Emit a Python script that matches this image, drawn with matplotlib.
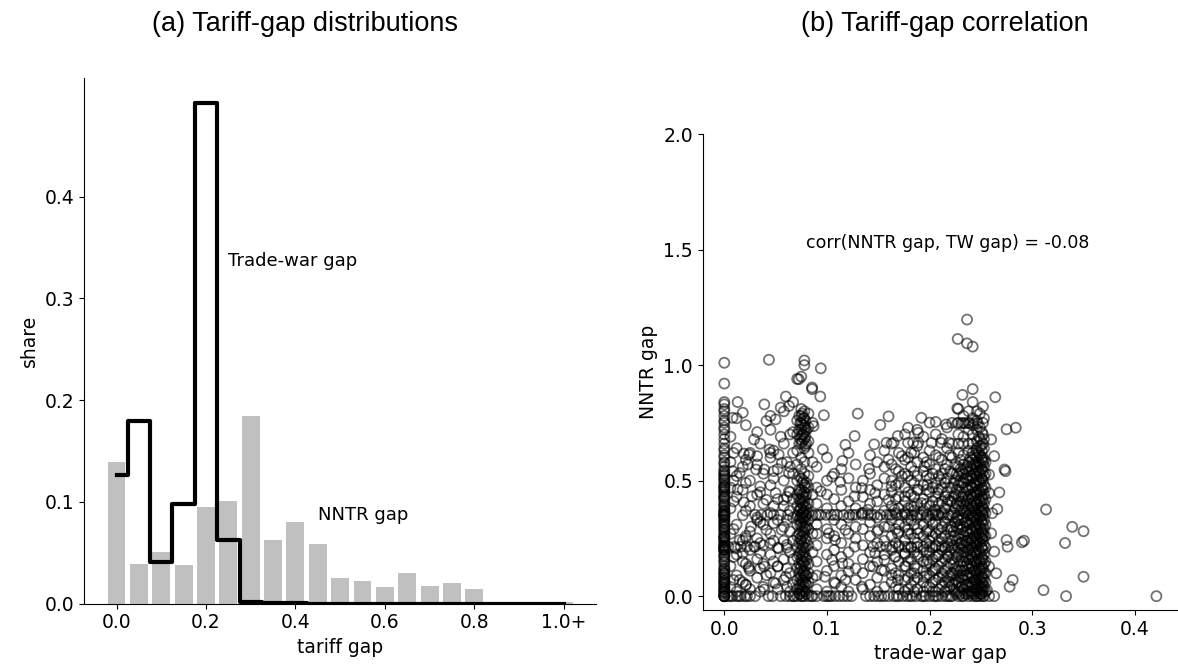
"""
Tariff-gap figure: (a) histograms of NNTR and trade-war gaps, (b) scatter of the two gaps
"""
import matplotlib
matplotlib.use("Agg")
import matplotlib.pyplot as plt

# ---- panel (a): binned shares (bin centres 0.00 ... 1.00, last bin = 1.0+) ----
bin_centers = [0.00, 0.05, 0.10, 0.15, 0.20, 0.25, 0.30, 0.35, 0.40, 0.45, 0.50,
               0.55, 0.60, 0.65, 0.70, 0.75, 0.80, 0.85, 0.90, 0.95, 1.00]
nntr_share = [0.139, 0.039, 0.051, 0.038, 0.095, 0.101, 0.184, 0.063, 0.080, 0.059, 0.025,
              0.022, 0.016, 0.030, 0.017, 0.020, 0.014, 0.002, 0.0015, 0.001, 0.002]
tw_share = [0.126, 0.179, 0.041, 0.098, 0.492, 0.063, 0.002, 0.001, 0.001, 0.0, 0.0,
            0.0, 0.0, 0.0, 0.0, 0.0, 0.0, 0.0, 0.0, 0.0, 0.0]
xtick_vals = [0.0, 0.2, 0.4, 0.6, 0.8, 1.0]
xtick_labels = ["0.0", "0.2", "0.4", "0.6", "0.8", "1.0+"]

# ---- panel (b): products ----
# products with trade-war gap = 0
col0_y = [0.0, 0.0, 0.0, 0.0, 0.01, 0.02, 0.02, 0.03, 0.04, 0.05, 0.05, 0.06, 0.07, 0.08,
          0.08, 0.09, 0.10, 0.11, 0.12, 0.13, 0.15, 0.16, 0.17, 0.18, 0.19, 0.20, 0.20, 0.21,
          0.21, 0.22, 0.23, 0.24, 0.25, 0.25, 0.26, 0.27, 0.28, 0.29, 0.30, 0.30, 0.31, 0.32,
          0.33, 0.34, 0.35, 0.35, 0.36, 0.37, 0.38, 0.39, 0.40, 0.41, 0.42, 0.43, 0.44, 0.45,
          0.46, 0.47, 0.48, 0.49, 0.50, 0.51, 0.53, 0.54, 0.56, 0.58, 0.60, 0.61, 0.63, 0.64,
          0.66, 0.68, 0.70, 0.72, 0.73, 0.75, 0.76, 0.78, 0.80, 0.81, 0.83, 0.84, 0.92, 1.01,
          0.015, 0.035, 0.065, 0.095, 0.115, 0.145, 0.175, 0.205, 0.215, 0.235, 0.255, 0.285,
          0.315, 0.345, 0.355, 0.365, 0.395, 0.425, 0.455, 0.475, 0.505, 0.525, 0.545, 0.575,
          0.0, 0.03, 0.06, 0.1, 0.2, 0.22, 0.26, 0.33, 0.35, 0.37, 0.43, 0.47, 0.52]

# sub-columns of products near trade-war gap = 0.077
col1_x = [0.071, 0.075, 0.078, 0.082, 0.073, 0.076, 0.079, 0.067, 0.086, 0.074, 0.077, 0.080]
col1_y = [
    [0.0, 0.03, 0.07, 0.12, 0.17, 0.21, 0.26, 0.31, 0.35, 0.39, 0.44, 0.50, 0.57, 0.63,
     0.70, 0.76, 0.94],
    [0.0, 0.02, 0.05, 0.09, 0.13, 0.16, 0.20, 0.24, 0.28, 0.32, 0.35, 0.38, 0.42, 0.46,
     0.51, 0.55, 0.60, 0.66, 0.69, 0.72, 0.75, 0.78, 0.81, 0.95],
    [0.0, 0.04, 0.08, 0.11, 0.15, 0.19, 0.23, 0.27, 0.30, 0.34, 0.37, 0.41, 0.45, 0.48,
     0.53, 0.58, 0.64, 0.68, 0.71, 0.74, 0.77, 0.80, 1.02, 1.00],
    [0.0, 0.06, 0.10, 0.14, 0.22, 0.29, 0.33, 0.36, 0.40, 0.47, 0.52, 0.62, 0.67, 0.73, 0.79],
    [0.01, 0.05, 0.10, 0.14, 0.18, 0.23, 0.27, 0.33, 0.37, 0.42, 0.46, 0.52, 0.66, 0.72, 0.78],
    [0.0, 0.03, 0.07, 0.11, 0.15, 0.18, 0.22, 0.26, 0.30, 0.34, 0.36, 0.40, 0.44, 0.49, 0.67,
     0.70, 0.74, 0.79],
    [0.02, 0.06, 0.09, 0.13, 0.17, 0.21, 0.25, 0.29, 0.32, 0.35, 0.39, 0.43, 0.47, 0.65, 0.69,
     0.73, 0.76],
    [0.0, 0.05, 0.16, 0.24, 0.34, 0.42, 0.53, 0.62, 0.71, 0.84],
    [0.0, 0.08, 0.19, 0.27, 0.35, 0.44, 0.58, 0.75],
    [0.01, 0.04, 0.08, 0.12, 0.19, 0.25, 0.31, 0.34, 0.38, 0.41, 0.45, 0.68, 0.75],
    [0.02, 0.06, 0.10, 0.14, 0.17, 0.21, 0.28, 0.33, 0.36, 0.39, 0.43, 0.50, 0.70, 0.77],
    [0.01, 0.05, 0.09, 0.16, 0.24, 0.30, 0.35, 0.38, 0.44, 0.49, 0.66, 0.72],
]

# sub-columns of the dense band near trade-war gap = 0.24
band_x = [0.222, 0.228, 0.233, 0.238, 0.242, 0.246, 0.249, 0.252,
          0.225, 0.230, 0.235, 0.240, 0.244, 0.248, 0.251, 0.253,
          0.2235, 0.2265, 0.2315, 0.2365, 0.2415, 0.2455, 0.2505, 0.2545]
band_y = [
    [0.0, 0.05, 0.10, 0.16, 0.21, 0.24, 0.30, 0.35, 0.41, 0.47, 0.53, 0.60, 0.66, 0.75],
    [0.0, 0.02, 0.06, 0.09, 0.13, 0.18, 0.21, 0.25, 0.29, 0.33, 0.35, 0.39, 0.43, 0.48,
     0.52, 0.56, 0.62, 0.66, 0.70, 0.75, 0.81],
    [0.0, 0.03, 0.07, 0.11, 0.15, 0.19, 0.22, 0.26, 0.30, 0.34, 0.37, 0.40, 0.44, 0.49,
     0.53, 0.57, 0.61, 0.66, 0.69, 0.75, 0.78],
    [0.0, 0.01, 0.04, 0.08, 0.12, 0.16, 0.20, 0.23, 0.27, 0.31, 0.35, 0.38, 0.42, 0.46,
     0.50, 0.54, 0.58, 0.63, 0.66, 0.72, 0.75, 0.80],
    [0.0, 0.02, 0.05, 0.09, 0.13, 0.17, 0.21, 0.24, 0.28, 0.32, 0.35, 0.39, 0.43, 0.47,
     0.51, 0.55, 0.59, 0.62, 0.66, 0.70, 0.74, 0.77, 0.84],
    [0.0, 0.03, 0.06, 0.10, 0.14, 0.18, 0.22, 0.25, 0.29, 0.33, 0.36, 0.40, 0.44, 0.48,
     0.52, 0.56, 0.60, 0.64, 0.67, 0.72, 0.76, 0.80],
    [0.0, 0.01, 0.04, 0.07, 0.11, 0.15, 0.19, 0.23, 0.26, 0.30, 0.34, 0.37, 0.41, 0.45,
     0.49, 0.53, 0.57, 0.61, 0.65, 0.68, 0.73, 0.79],
    [0.0, 0.02, 0.05, 0.08, 0.12, 0.16, 0.20, 0.24, 0.27, 0.31, 0.35, 0.38, 0.42, 0.46,
     0.50, 0.54, 0.58, 0.60, 0.66, 0.70, 0.75, 0.82],
    [0.02, 0.07, 0.12, 0.19, 0.26, 0.32, 0.38, 0.44, 0.50, 0.57],
    [0.01, 0.04, 0.08, 0.11, 0.15, 0.20, 0.23, 0.27, 0.31, 0.37, 0.41, 0.45, 0.50, 0.55, 0.59],
    [0.01, 0.05, 0.09, 0.13, 0.17, 0.21, 0.24, 0.28, 0.32, 0.36, 0.39, 0.43, 0.47, 0.51, 0.55],
    [0.02, 0.06, 0.10, 0.14, 0.18, 0.22, 0.25, 0.29, 0.33, 0.36, 0.40, 0.44, 0.48, 0.52,
     0.56, 0.60],
    [0.01, 0.04, 0.07, 0.11, 0.15, 0.19, 0.23, 0.26, 0.30, 0.34, 0.37, 0.41, 0.45, 0.49,
     0.53, 0.57, 0.61],
    [0.02, 0.05, 0.09, 0.12, 0.16, 0.20, 0.24, 0.27, 0.31, 0.35, 0.38, 0.42, 0.46, 0.50,
     0.54, 0.58, 0.62, 0.69],
    [0.01, 0.03, 0.06, 0.09, 0.13, 0.17, 0.21, 0.25, 0.28, 0.32, 0.36, 0.39, 0.43, 0.47,
     0.51, 0.55, 0.59, 0.63, 0.71],
    [0.0, 0.04, 0.07, 0.10, 0.14, 0.18, 0.22, 0.26, 0.29, 0.33, 0.37, 0.40, 0.44, 0.48,
     0.52, 0.56, 0.59, 0.64, 0.68, 0.77],
    [0.03, 0.09, 0.14, 0.22, 0.28, 0.36, 0.43, 0.49],
    [0.01, 0.06, 0.11, 0.17, 0.24, 0.30, 0.34, 0.40, 0.46, 0.53],
    [0.0, 0.04, 0.08, 0.13, 0.18, 0.23, 0.29, 0.33, 0.38, 0.43, 0.49, 0.54],
    [0.02, 0.05, 0.09, 0.14, 0.19, 0.24, 0.28, 0.32, 0.37, 0.41, 0.46, 0.51, 0.56],
    [0.01, 0.04, 0.08, 0.12, 0.16, 0.20, 0.25, 0.29, 0.34, 0.38, 0.42, 0.47, 0.52, 0.57],
    [0.0, 0.03, 0.07, 0.11, 0.15, 0.19, 0.23, 0.27, 0.31, 0.35, 0.40, 0.45, 0.50, 0.54,
     0.58, 0.63],
    [0.01, 0.04, 0.08, 0.12, 0.16, 0.21, 0.25, 0.29, 0.33, 0.37, 0.41, 0.46, 0.51, 0.55,
     0.60, 0.65],
    [0.02, 0.06, 0.10, 0.15, 0.21, 0.26, 0.31, 0.36, 0.42, 0.47, 0.53, 0.58],
]

# vertical strips of the loosely filled field between the columns
field_x = [0.006, 0.012, 0.018, 0.025, 0.032, 0.038, 0.045, 0.052, 0.058, 0.064,
           0.090, 0.100, 0.107, 0.114, 0.121, 0.128, 0.135, 0.142, 0.149, 0.156,
           0.163, 0.170, 0.176, 0.182, 0.188, 0.194, 0.200, 0.206, 0.212, 0.217,
           0.009, 0.021, 0.035, 0.048, 0.061, 0.167, 0.179, 0.185, 0.197, 0.203,
           0.209, 0.215, 0.220]
field_y = [
    [0.04, 0.13, 0.27, 0.38, 0.47, 0.58, 0.69],
    [0.02, 0.09, 0.18, 0.31, 0.43, 0.52, 0.64, 0.77],
    [0.06, 0.15, 0.24, 0.35, 0.46, 0.56],
    [0.03, 0.11, 0.20, 0.28, 0.39, 0.50, 0.62],
    [0.08, 0.16, 0.25, 0.34, 0.44, 0.57, 0.71],
    [0.04, 0.14, 0.22, 0.31, 0.40, 0.53],
    [0.10, 0.18, 0.27, 0.36, 0.48, 0.60, 0.72],
    [0.03, 0.13, 0.21, 0.33, 0.42, 0.55],
    [0.07, 0.16, 0.24, 0.30, 0.39, 0.50, 0.66, 0.80],
    [0.02, 0.10, 0.19, 0.28, 0.37, 0.45, 0.56, 0.70],
    [0.03, 0.09, 0.15, 0.22, 0.27, 0.31, 0.40, 0.47, 0.56],
    [0.02, 0.11, 0.18, 0.25, 0.29, 0.38, 0.44, 0.50, 0.60],
    [0.06, 0.13, 0.20, 0.26, 0.33, 0.42, 0.53],
    [0.04, 0.09, 0.17, 0.23, 0.31, 0.39, 0.46, 0.55],
    [0.02, 0.14, 0.19, 0.27, 0.34, 0.41, 0.51, 0.62],
    [0.07, 0.12, 0.25, 0.30, 0.38, 0.47, 0.57],
    [0.03, 0.10, 0.16, 0.22, 0.29, 0.36, 0.43, 0.50],
    [0.05, 0.13, 0.19, 0.26, 0.32, 0.40, 0.46, 0.53, 0.61],
    [0.02, 0.08, 0.15, 0.23, 0.28, 0.34, 0.41, 0.48, 0.58],
    [0.04, 0.11, 0.18, 0.24, 0.30, 0.37, 0.44, 0.51, 0.56, 0.63],
    [0.06, 0.12, 0.20, 0.26, 0.33, 0.39, 0.45, 0.50, 0.57, 0.66],
    [0.03, 0.09, 0.15, 0.22, 0.28, 0.31, 0.38, 0.43, 0.49, 0.54, 0.62],
    [0.02, 0.07, 0.13, 0.18, 0.24, 0.30, 0.36, 0.41, 0.47, 0.53, 0.59, 0.70],
    [0.05, 0.10, 0.16, 0.21, 0.27, 0.33, 0.39, 0.44, 0.50, 0.56, 0.62],
    [0.03, 0.08, 0.12, 0.18, 0.23, 0.29, 0.34, 0.40, 0.46, 0.52, 0.58, 0.65, 0.72],
    [0.02, 0.06, 0.11, 0.15, 0.20, 0.26, 0.31, 0.37, 0.42, 0.48, 0.54, 0.60, 0.69],
    [0.04, 0.09, 0.14, 0.19, 0.24, 0.28, 0.33, 0.39, 0.45, 0.51, 0.57, 0.63],
    [0.02, 0.07, 0.12, 0.17, 0.22, 0.27, 0.32, 0.37, 0.43, 0.49, 0.55, 0.61, 0.70],
    [0.05, 0.10, 0.15, 0.20, 0.25, 0.30, 0.36, 0.41, 0.47, 0.53, 0.59, 0.68],
    [0.03, 0.08, 0.13, 0.18, 0.23, 0.29, 0.34, 0.40, 0.45, 0.51, 0.57, 0.64, 0.73],
    [0.07, 0.17, 0.29, 0.41, 0.50, 0.62],
    [0.05, 0.14, 0.26, 0.37, 0.49, 0.59, 0.74],
    [0.02, 0.12, 0.23, 0.32, 0.45, 0.66],
    [0.06, 0.15, 0.24, 0.39, 0.51, 0.63],
    [0.04, 0.12, 0.21, 0.33, 0.43, 0.58],
    [0.04, 0.10, 0.17, 0.23, 0.29, 0.36, 0.42, 0.48, 0.55],
    [0.03, 0.08, 0.15, 0.21, 0.27, 0.33, 0.38, 0.45, 0.52, 0.60],
    [0.02, 0.07, 0.13, 0.19, 0.25, 0.31, 0.37, 0.43, 0.49, 0.54],
    [0.04, 0.09, 0.14, 0.19, 0.23, 0.28, 0.34, 0.40, 0.46, 0.52, 0.58],
    [0.02, 0.06, 0.11, 0.16, 0.21, 0.26, 0.31, 0.36, 0.41, 0.47, 0.53],
    [0.03, 0.08, 0.13, 0.18, 0.24, 0.29, 0.35, 0.40, 0.46, 0.52, 0.60],
    [0.02, 0.06, 0.11, 0.16, 0.21, 0.26, 0.32, 0.38, 0.43, 0.49, 0.55],
    [0.04, 0.09, 0.14, 0.19, 0.24, 0.30, 0.35, 0.41, 0.47, 0.54, 0.61],
]

# horizontal rows of products sharing one NNTR gap
row0_x = [0.004, 0.008, 0.012, 0.016, 0.020, 0.025, 0.030, 0.043, 0.047, 0.060, 0.064,
          0.068, 0.085, 0.097, 0.100, 0.104, 0.108, 0.112, 0.120, 0.124, 0.138, 0.142,
          0.146, 0.150, 0.156, 0.160, 0.165, 0.170, 0.174, 0.178, 0.183, 0.187, 0.192,
          0.196, 0.200, 0.204, 0.208, 0.212, 0.216, 0.220, 0.258, 0.263,
          0.006, 0.014, 0.022, 0.055, 0.090, 0.102, 0.116, 0.153, 0.168, 0.181, 0.194,
          0.206, 0.218]
row35_x = [0.030, 0.036, 0.042, 0.048, 0.055, 0.062, 0.089, 0.094, 0.099, 0.104, 0.110,
           0.116, 0.122, 0.128, 0.134, 0.140, 0.146, 0.152, 0.158, 0.163, 0.168, 0.173,
           0.178, 0.183, 0.188, 0.193, 0.198, 0.203, 0.208, 0.213, 0.218,
           0.092, 0.107, 0.125, 0.143, 0.161, 0.176, 0.191, 0.206]
row21_x = [0.004, 0.010, 0.016, 0.022, 0.030, 0.145, 0.152, 0.158, 0.164, 0.170, 0.176,
           0.182, 0.188, 0.194, 0.200, 0.206, 0.212, 0.218]
row66_x = [0.158, 0.165, 0.179, 0.184, 0.189, 0.202, 0.211, 0.219]
row75_x = [0.227, 0.231, 0.235, 0.239, 0.243, 0.247]

# isolated products
scat_x = [0.013, 0.018, 0.008, 0.029, 0.019, 0.024, 0.032, 0.044, 0.045, 0.053, 0.039, 0.041,
          0.045, 0.050, 0.055, 0.060, 0.063, 0.055, 0.008, 0.015, 0.023, 0.031, 0.039, 0.048,
          0.056, 0.063, 0.013, 0.019, 0.027, 0.035, 0.041, 0.050, 0.058, 0.063, 0.026, 0.032,
          0.041, 0.048, 0.056, 0.015, 0.021, 0.011, 0.018, 0.029, 0.035, 0.045, 0.053, 0.061,
          0.024, 0.039, 0.041, 0.024, 0.021, 0.039, 0.050, 0.060, 0.015, 0.052,
          0.0855, 0.0935, 0.097, 0.087, 0.096, 0.094, 0.105, 0.113, 0.115, 0.118, 0.127, 0.130,
          0.141, 0.146, 0.152, 0.160, 0.160, 0.169, 0.179, 0.192, 0.200, 0.206, 0.216, 0.189,
          0.173, 0.185, 0.195, 0.173, 0.163, 0.147, 0.134, 0.127, 0.160, 0.176, 0.189, 0.198,
          0.211, 0.208, 0.218, 0.192, 0.102, 0.108, 0.118, 0.127, 0.105, 0.115, 0.121, 0.098,
          0.108, 0.118, 0.134, 0.145, 0.153, 0.163, 0.169, 0.177, 0.185, 0.195, 0.205, 0.213,
          0.219, 0.147, 0.156, 0.166, 0.176, 0.189, 0.198, 0.208, 0.218, 0.150, 0.160, 0.169,
          0.179, 0.189, 0.198, 0.211, 0.221, 0.140, 0.166, 0.185, 0.205, 0.134,
          0.258, 0.258, 0.261, 0.260, 0.263, 0.258, 0.265, 0.256, 0.276, 0.281, 0.278, 0.275,
          0.290, 0.292, 0.273, 0.274, 0.268, 0.266, 0.260, 0.263,
          0.2365, 0.2274, 0.2365, 0.242, 0.264, 0.275, 0.284, 0.3135, 0.339, 0.350, 0.332,
          0.350, 0.311, 0.333, 0.421, 0.242, 0.232, 0.227, 0.0435, 0.094, 0.0726, 0.0855]
scat_y = [0.840, 0.794, 0.772, 0.678, 0.617, 0.613, 0.606, 0.635, 0.620, 0.613, 0.830, 0.758,
          0.780, 0.765, 0.816, 0.864, 0.823, 0.690, 0.541, 0.533, 0.570, 0.548, 0.548, 0.541,
          0.577, 0.533, 0.461, 0.406, 0.432, 0.475, 0.417, 0.446, 0.417, 0.454, 0.301, 0.330,
          0.287, 0.316, 0.287, 0.243, 0.251, 0.207, 0.186, 0.214, 0.186, 0.229, 0.207, 0.222,
          0.128, 0.128, 0.091, 0.120, 0.048, 0.029, 0.055, 0.084, 0.070, 0.128,
          0.896, 0.864, 0.783, 0.736, 0.635, 0.454, 0.517, 0.494, 0.585, 0.655, 0.693, 0.790,
          0.551, 0.657, 0.741, 0.778, 0.591, 0.693, 0.729, 0.772, 0.751, 0.754, 0.743, 0.707,
          0.606, 0.620, 0.562, 0.519, 0.475, 0.446, 0.468, 0.432, 0.417, 0.432, 0.461, 0.483,
          0.504, 0.446, 0.417, 0.403, 0.272, 0.243, 0.287, 0.214, 0.157, 0.142, 0.106, 0.084,
          0.055, 0.070, 0.041, 0.128, 0.113, 0.091, 0.070, 0.128, 0.099, 0.084, 0.113, 0.084,
          0.062, 0.186, 0.157, 0.171, 0.186, 0.171, 0.157, 0.178, 0.171, 0.287, 0.301, 0.272,
          0.287, 0.272, 0.287, 0.272, 0.287, 0.374, 0.374, 0.388, 0.374, 0.359,
          0.526, 0.446, 0.359, 0.272, 0.193, 0.128, 0.099, 0.026, 0.214, 0.070, 0.041, 0.243,
          0.233, 0.240, 0.548, 0.541, 0.449, 0.377, 0.678, 0.606,
          1.197, 1.113, 1.094, 1.080, 0.861, 0.722, 0.729, 0.375, 0.300, 0.281, 0.230,
          0.084, 0.026, 0.0, 0.0, 0.896, 0.871, 0.813, 1.023, 0.986, 0.939, 0.903]

# ---- assemble the scatter arrays ----
tw_gap = [0.0] * len(col0_y)
nntr_gap = list(col0_y)
for xs, ys in zip(col1_x + band_x + field_x, col1_y + band_y + field_y):
    tw_gap += [xs] * len(ys)
    nntr_gap += ys
for ys, xs in [(0.0, row0_x), (0.352, row35_x), (0.214, row21_x), (0.664, row66_x), (0.748, row75_x)]:
    tw_gap += xs
    nntr_gap += [ys] * len(xs)
tw_gap += scat_x
nntr_gap += scat_y

W, H = 1178, 671
fig = plt.figure(figsize=(W / 100, H / 100), dpi=100)
title_font = dict(family="Liberation Sans", fontsize=19.5)

# ---- (a) distributions ----
ax1 = fig.add_axes([84.3 / W, (H - 603.6) / H, (596 - 84.3) / W, (603.6 - 78) / H])
ax1.bar(bin_centers, nntr_share, width=0.04, color="#c0c0c0")
ax1.plot(bin_centers, tw_share, drawstyle="steps-mid", color="black", linewidth=3)
ax1.set_xticks(xtick_vals)
ax1.set_xticklabels(xtick_labels)
ax1.set_yticks([0.0, 0.1, 0.2, 0.3, 0.4])
ax1.tick_params(labelsize=13.5)
ax1.set_xlabel("tariff gap", fontsize=13.5)
ax1.set_ylabel("share", fontsize=13.5)
ax1.text(0.25, 0.337, "Trade-war gap", fontsize=13, va="center", ha="left")
ax1.text(0.45, 0.087, "NNTR gap", fontsize=13, va="center", ha="left")
for s in ["top", "right"]:
    ax1.spines[s].set_visible(False)

# ---- (b) correlation ----
ax2 = fig.add_axes([702.7 / W, (H - 610) / H, (W - 702.7) / W, (610 - 134) / H])
ax2.scatter(tw_gap, nntr_gap, s=52, facecolors="none", edgecolors="black",
            linewidths=1.3, alpha=0.55)
ax2.set_ylim(top=2.0)
ax2.set_xticks([0.0, 0.1, 0.2, 0.3, 0.4])
ax2.set_yticks([0.0, 0.5, 1.0, 1.5, 2.0])
ax2.tick_params(labelsize=13.5)
ax2.set_xlabel("trade-war gap", fontsize=13.5)
ax2.set_ylabel("NNTR gap", fontsize=13.5)
ax2.text(0.08, 1.527, "corr(NNTR gap, TW gap) = -0.08", fontsize=12.5, va="center", ha="left")
for s in ["top", "right"]:
    ax2.spines[s].set_visible(False)

fig.text(305 / W, 1 - 24 / H, "(a) Tariff-gap distributions", ha="center", va="center", **title_font)
fig.text(945 / W, 1 - 24 / H, "(b) Tariff-gap correlation", ha="center", va="center", **title_font)

fig.savefig("out.png", dpi=100, facecolor="white")
